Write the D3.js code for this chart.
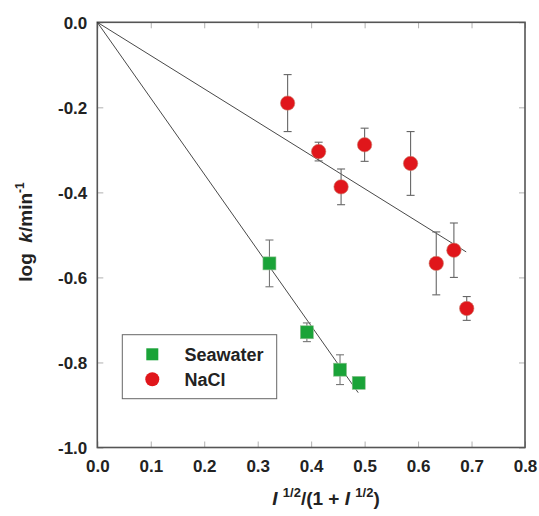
<!DOCTYPE html>
<html><head><meta charset="utf-8">
<script src="https://cdn.jsdelivr.net/npm/d3@7"></script>
<style>body{margin:0;background:#fff}svg{font-family:"Liberation Sans",Arial,sans-serif}</style>
</head><body><svg id="c" width="539" height="516"></svg>
<script>
const xTicks=[0,0.1,0.2,0.3,0.4,0.5,0.6,0.7,0.8];
const yTicks=[0,-0.2,-0.4,-0.6,-0.8,-1.0];
const naclX=[0.356,0.414,0.456,0.500,0.586,0.634,0.667,0.691];
const naclY=[-0.190,-0.304,-0.387,-0.288,-0.332,-0.567,-0.536,-0.673];
const naclErr=[0.067,0.022,0.042,0.039,0.075,0.074,0.064,0.028];
const seaX=[0.322,0.392,0.454,0.489];
const seaY=[-0.567,-0.729,-0.817,-0.848];
const seaErr=[0.055,0.022,0.035,0];
const naclFit=[[0,0],[0.690,-0.540]];
const seaFit=[[0,0],[0.488,-0.871]];

const svg=d3.select("#c");
const L=97.3,R=525,T=22.3,B=447.5;
const x=d3.scaleLinear().domain([0,0.8]).range([L,R]);
const y=d3.scaleLinear().domain([-1,0]).range([B,T]);
const fmt=d=>d3.format(".1f")(d).replace("\u2212","-");
const tickCol="#b0b0b0";
const gb=svg.append("g").attr("transform",`translate(0,${B})`).call(d3.axisBottom(x).tickValues(xTicks).tickSize(-6).tickPadding(12).tickFormat(fmt));
const gt=svg.append("g").attr("transform",`translate(0,${T})`).call(d3.axisTop(x).tickValues(xTicks).tickSize(-6).tickFormat(""));
const gl=svg.append("g").attr("transform",`translate(${L},0)`).call(d3.axisLeft(y).tickValues(yTicks).tickSize(-6).tickPadding(10).tickFormat(fmt));
const gr=svg.append("g").attr("transform",`translate(${R},0)`).call(d3.axisRight(y).tickValues(yTicks).tickSize(-6).tickFormat(""));
[gb,gt,gl,gr].forEach(g=>{g.select(".domain").remove();g.selectAll(".tick line").attr("stroke",tickCol).attr("stroke-width",1);
 g.selectAll("text").attr("font-size",17).attr("font-weight","bold").attr("fill","#222").attr("font-family","Liberation Sans, Arial, sans-serif");});
gl.selectAll(".tick text").attr("dy","0.35em");
svg.append("rect").attr("x",L).attr("y",T).attr("width",R-L).attr("height",B-T).attr("fill","none").attr("stroke","#555").attr("stroke-width",1.6);

const line=d3.line().x(d=>x(d[0])).y(d=>y(d[1]));
[naclFit,seaFit].forEach(f=>svg.append("path").attr("d",line(f)).attr("fill","none").attr("stroke","#333").attr("stroke-width",0.9));

function err(xs,ys,es,col){
  xs.forEach((v,i)=>{ if(!es[i]) return;
    const g=svg.append("g").attr("stroke",col).attr("stroke-width",1.1);
    g.append("line").attr("x1",x(v)).attr("x2",x(v)).attr("y1",y(ys[i]+es[i])).attr("y2",y(ys[i]-es[i]));
    g.append("line").attr("x1",x(v)-4).attr("x2",x(v)+4).attr("y1",y(ys[i]+es[i])).attr("y2",y(ys[i]+es[i]));
    g.append("line").attr("x1",x(v)-4).attr("x2",x(v)+4).attr("y1",y(ys[i]-es[i])).attr("y2",y(ys[i]-es[i]));
  });
}
err(naclX,naclY,naclErr,"#666");
err(seaX,seaY,seaErr,"#777");

const red="#e0161b", green="#1aa338";
svg.append("g").selectAll("circle").data(naclX).join("circle")
 .attr("cx",d=>x(d)).attr("cy",(d,i)=>y(naclY[i])).attr("r",7.2).attr("fill",red).attr("stroke","#c97a6a").attr("stroke-width",0.6);
svg.append("g").selectAll("rect").data(seaX).join("rect")
 .attr("x",d=>x(d)-6.5).attr("y",(d,i)=>y(seaY[i])-6.5).attr("width",13).attr("height",13).attr("fill",green).attr("stroke","#8fbf8f").attr("stroke-width",0.6);

svg.append("rect").attr("x",122.3).attr("y",334.7).attr("width",154.4).attr("height",64).attr("fill","#fff").attr("stroke","#666").attr("stroke-width",1);
svg.append("rect").attr("x",152.3-6).attr("y",354.3-6).attr("width",12).attr("height",12).attr("fill",green);
svg.append("circle").attr("cx",152.3).attr("cy",379.3).attr("r",7).attr("fill",red);
svg.append("text").attr("x",184.5).attr("y",360.5).text("Seawater").attr("font-size",18).attr("font-weight","bold").attr("fill","#222");
svg.append("text").attr("x",184.5).attr("y",386).text("NaCl").attr("font-size",18).attr("font-weight","bold").attr("fill","#222");

const xt=svg.append("text").attr("x",326).attr("y",505).attr("text-anchor","middle").attr("font-size",19).attr("font-weight","bold").attr("fill","#222").attr("xml:space","preserve");
xt.append("tspan").attr("font-style","italic").text("I ");
xt.append("tspan").attr("dy",-8).attr("font-size",13).text("1/2");
xt.append("tspan").attr("dy",8).text("/(1 + ");
xt.append("tspan").attr("font-style","italic").text("I ");
xt.append("tspan").attr("dy",-8).attr("font-size",13).text("1/2");
xt.append("tspan").attr("dy",8).text(")");
const yt=svg.append("text").attr("transform","translate(32,232) rotate(-90)").attr("text-anchor","middle").attr("font-size",19).attr("font-weight","bold").attr("fill","#222").attr("xml:space","preserve");
yt.append("tspan").text("log  ");
yt.append("tspan").attr("font-style","italic").text("k");
yt.append("tspan").text("/min");
yt.append("tspan").attr("dy",-8).attr("font-size",12).text("-1");
</script></body></html>
